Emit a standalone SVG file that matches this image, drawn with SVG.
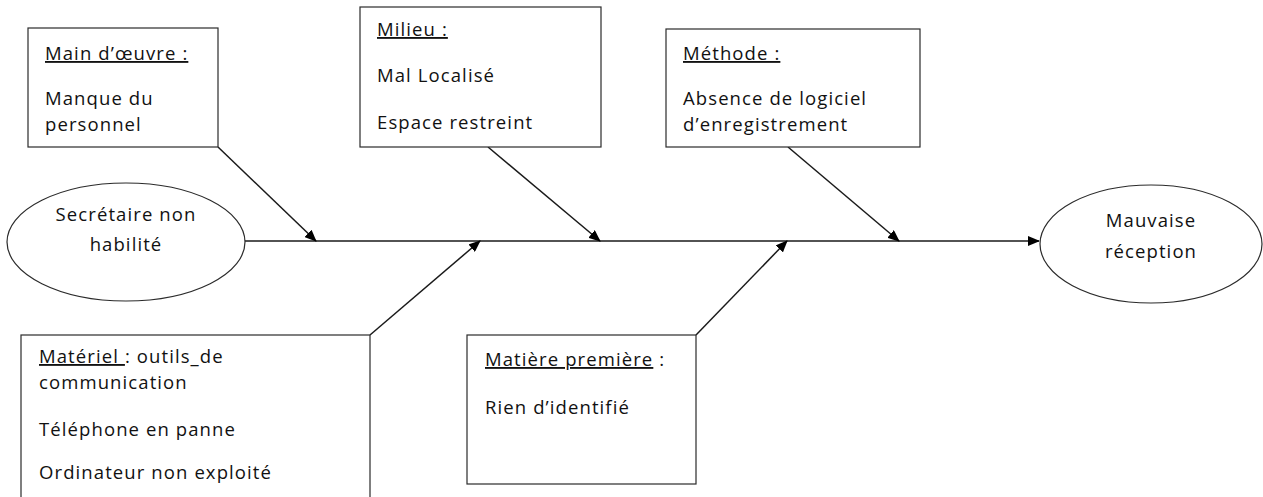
<svg xmlns="http://www.w3.org/2000/svg" width="1263" height="497" viewBox="0 0 1263 497">
  <style>
    .box { fill: #ffffff; stroke: #2b2b2b; stroke-width: 1.2; }
    .oval { fill: #ffffff; stroke: #2b2b2b; stroke-width: 1.2; }
    .txt { font-family: "Open Sans", "Noto Sans", sans-serif; font-size: 18.5px; letter-spacing: 1.1px; fill: #111111; }
    .mid { text-anchor: middle; }
    .u { text-decoration: underline; }
    .wire { stroke: #1a1a1a; stroke-width: 1.5; fill: none; }
  </style>
  <defs>
    <marker id="arrow" markerWidth="12" markerHeight="10" refX="11" refY="5" orient="auto" markerUnits="userSpaceOnUse">
      <path d="M0,0 L12,5 L0,10 Z" fill="#000000"/>
    </marker>
  </defs>
  <rect width="1263" height="497" fill="#ffffff"/>

  <!-- connectors -->
  <g id="connectors">
    <line class="wire" x1="245" y1="241" x2="1039" y2="241" marker-end="url(#arrow)"/>
    <line class="wire" x1="218" y1="147" x2="316" y2="241" marker-end="url(#arrow)"/>
    <line class="wire" x1="488" y1="147" x2="600" y2="241" marker-end="url(#arrow)"/>
    <line class="wire" x1="788" y1="147" x2="899" y2="241" marker-end="url(#arrow)"/>
    <line class="wire" x1="370" y1="335" x2="480" y2="241" marker-end="url(#arrow)"/>
    <line class="wire" x1="696" y1="335" x2="787" y2="241" marker-end="url(#arrow)"/>
  </g>

  <!-- effect source -->
  <g id="secretaire">
    <ellipse class="oval" cx="126" cy="242" rx="119" ry="59"/>
    <text class="txt mid" x="126" y="221">Secrétaire non</text>
    <text class="txt mid" x="126" y="251">habilité</text>
  </g>

  <!-- result -->
  <g id="mauvaise-reception">
    <ellipse class="oval" cx="1151" cy="244" rx="111" ry="59"/>
    <text class="txt mid" x="1151" y="227">Mauvaise</text>
    <text class="txt mid" x="1151" y="258">réception</text>
  </g>

  <g id="main-oeuvre">
    <rect class="box" x="28" y="28" width="190" height="119"/>
    <text class="txt" x="45" y="60"><tspan class="u">Main d’œuvre :</tspan></text>
    <text class="txt" x="45" y="105">Manque du</text>
    <text class="txt" x="45" y="131">personnel</text>
  </g>

  <g id="milieu">
    <rect class="box" x="360" y="7" width="241" height="140"/>
    <text class="txt" x="377" y="36"><tspan class="u">Milieu :</tspan></text>
    <text class="txt" x="377" y="82">Mal Localisé</text>
    <text class="txt" x="377" y="129">Espace restreint</text>
  </g>

  <g id="methode">
    <rect class="box" x="666" y="29" width="254" height="118"/>
    <text class="txt" x="683" y="60"><tspan class="u">Méthode :</tspan></text>
    <text class="txt" x="683" y="105">Absence de logiciel</text>
    <text class="txt" x="683" y="131">d’enregistrement</text>
  </g>

  <g id="materiel">
    <rect class="box" x="21" y="335" width="349" height="170"/>
    <text class="txt" x="39" y="363"><tspan class="u">Matériel </tspan>: outils_de</text>
    <text class="txt" x="39" y="389">communication</text>
    <text class="txt" x="39" y="436">Téléphone en panne</text>
    <text class="txt" x="39" y="479">Ordinateur non exploité</text>
  </g>

  <g id="matiere-premiere">
    <rect class="box" x="467" y="335" width="229" height="149"/>
    <text class="txt" x="485" y="366"><tspan class="u">Matière première</tspan> :</text>
    <text class="txt" x="485" y="414">Rien d’identifié</text>
  </g>
</svg>
